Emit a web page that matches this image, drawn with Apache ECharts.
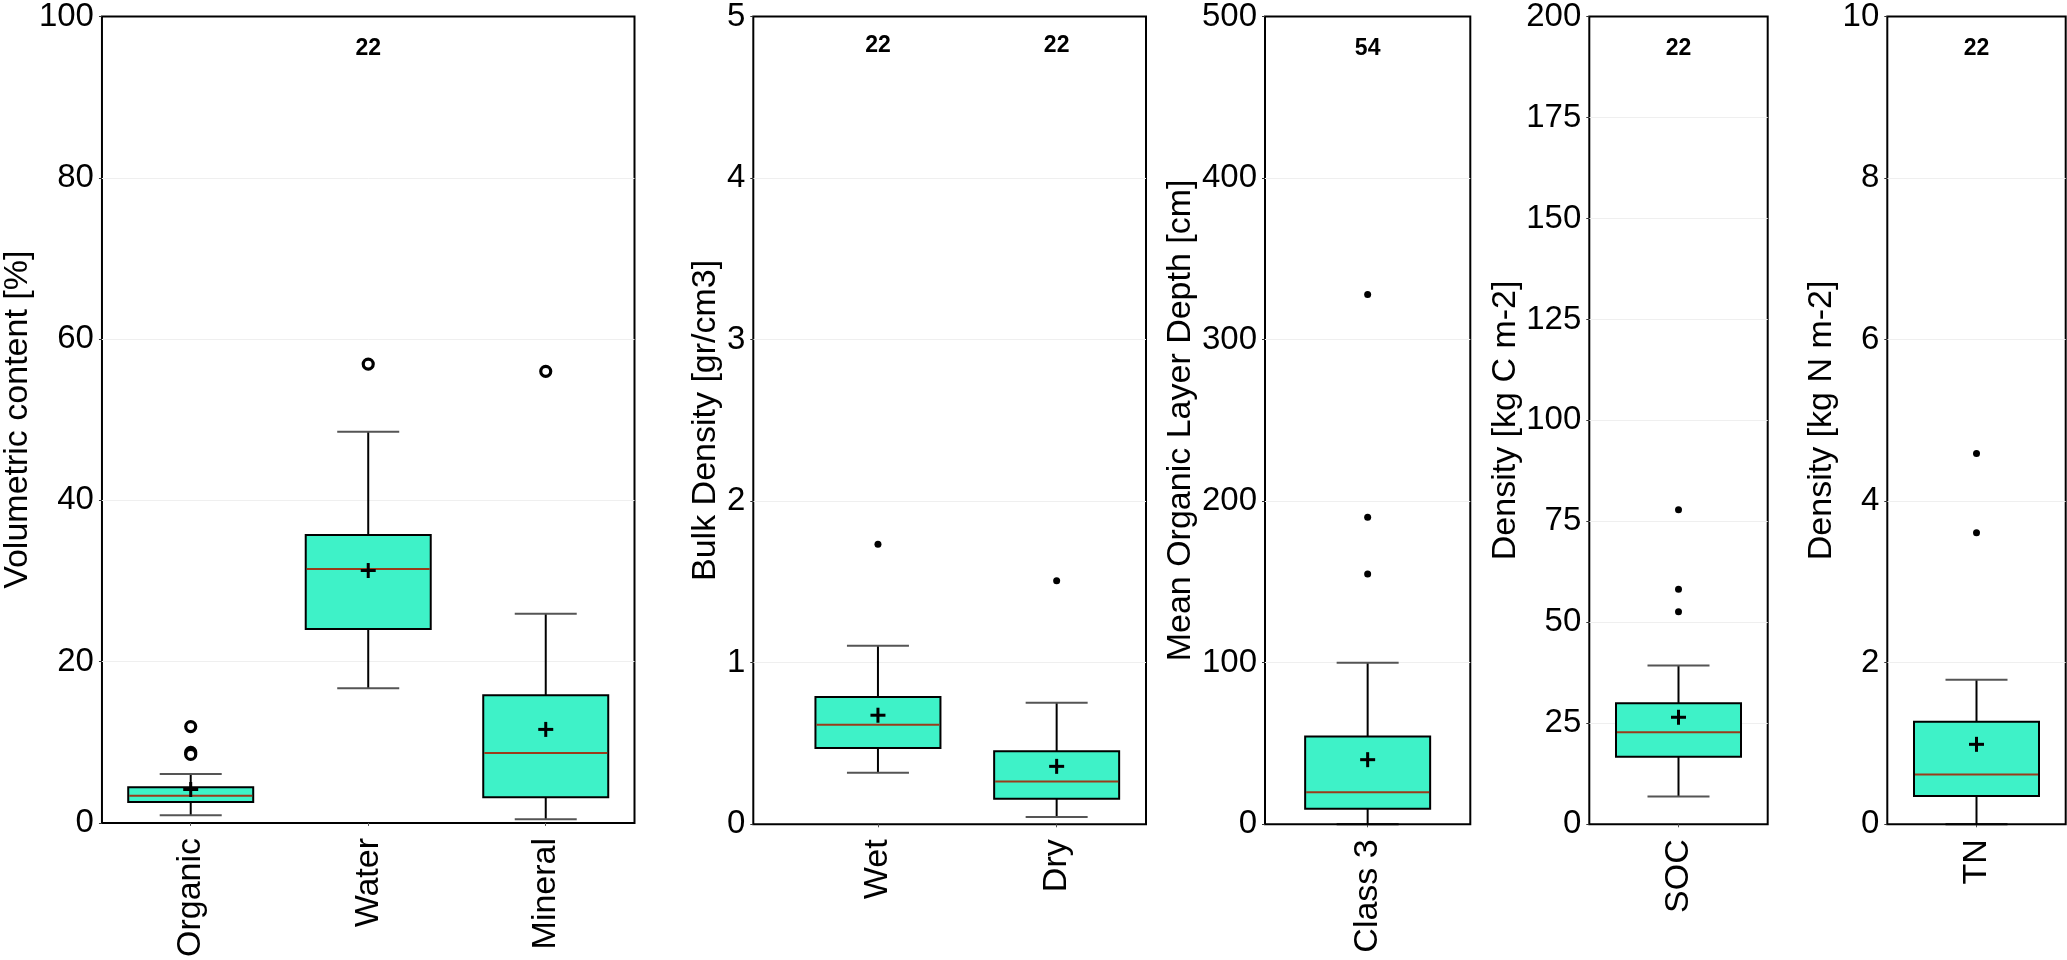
<!DOCTYPE html>
<html><head><meta charset="utf-8">
<script src="https://cdn.jsdelivr.net/npm/echarts@6/dist/echarts.min.js"></script>
<style>html,body{margin:0;padding:0;background:#fff}#c{width:2067px;height:960px}</style>
</head><body><div id="c"></div>
<script>
// ---------- DATA ----------
// stats rows: [lower whisker, Q1, median, Q3, upper whisker]
const volCats = ['Organic', 'Water', 'Mineral'];
const volStats = [[0.94, 2.59, 3.36, 4.43, 6.07], [16.7, 24.06, 31.5, 35.7, 48.5], [0.45, 3.2, 8.66, 15.85, 25.95]];
const volMeans = [4.15, 31.3, 11.6];
const volOutliers = [[0, 11.95], [0, 8.75], [0, 8.5], [1, 56.9], [2, 56.0]];
const volCounts = [null, '22', null];

const bdCats = ['Wet', 'Dry'];
const bdStats = [[0.318, 0.470, 0.614, 0.784, 1.10], [0.045, 0.158, 0.263, 0.450, 0.749]];
const bdMeans = [0.672, 0.357];
const bdOutliers = [[0, 1.725], [1, 1.50]];
const bdCounts = ['22', '22'];

const depthCats = ['Class 3'];
const depthStats = [[0, 9.6, 19.8, 54.3, 100]];
const depthMeans = [40];
const depthOutliers = [[0, 155], [0, 190], [0, 328]];
const depthCounts = ['54'];

const socCats = ['SOC'];
const socStats = [[6.9, 16.7, 22.8, 30.0, 39.3]];
const socMeans = [26.5];
const socOutliers = [[0, 52.6], [0, 58.2], [0, 77.9]];
const socCounts = ['22'];

const tnCats = ['TN'];
const tnStats = [[0, 0.35, 0.616, 1.27, 1.79]];
const tnMeans = [0.99];
const tnOutliers = [[0, 3.61], [0, 4.59]];
const tnCounts = ['22'];

// ---------- STYLE / LAYOUT ----------
const FONT = "'Liberation Sans', Arial, Helvetica, sans-serif";
const BOX_FILL = '#3ef2c8';
const MEDIAN_COLOR = '#9a3b1b';
const BOX_W = 125, CAP_W = 62, PLUS = 7.5;
const TOP = 12.7, HEIGHT = 811.6;
const COUNT_FRAC = 0.96;

const panels = [
  {frame: {left: 98.7, width: 535.8}, data: null, cats: volCats, stats: volStats, means: volMeans, outliers: volOutliers, counts: volCounts, max: 100, interval: 20, name: 'Volumetric content [%]', nameGap: 66, ring: true},
  {frame: {left: 753.3, width: 392.7}, data: {left: 788.6, width: 357.4}, cats: bdCats, stats: bdStats, means: bdMeans, outliers: bdOutliers, counts: bdCounts, max: 5, interval: 1, name: 'Bulk Density [gr/cm3]', nameGap: 30},
  {frame: {left: 1265, width: 205.3}, data: null, cats: depthCats, stats: depthStats, means: depthMeans, outliers: depthOutliers, counts: depthCounts, max: 500, interval: 100, name: 'Mean Organic Layer Depth [cm]', nameGap: 66},
  {frame: {left: 1589.3, width: 178.4}, data: null, cats: socCats, stats: socStats, means: socMeans, outliers: socOutliers, counts: socCounts, max: 200, interval: 25, name: 'Density [kg C m-2]', nameGap: 66},
  {frame: {left: 1887.3, width: 178.4}, data: null, cats: tnCats, stats: tnStats, means: tnMeans, outliers: tnOutliers, counts: tnCounts, max: 10, interval: 2, name: 'Density [kg N m-2]', nameGap: 46}
];

function renderBox(params, api) {
  const c = api.value(0);
  const lo = api.coord([c, api.value(1)]);
  const q1 = api.coord([c, api.value(2)]);
  const md = api.coord([c, api.value(3)]);
  const q3 = api.coord([c, api.value(4)]);
  const hi = api.coord([c, api.value(5)]);
  const mn = api.coord([c, api.value(6)]);
  const cs = params.coordSys;
  const bottom = cs.y + cs.height;
  const x = lo[0], hw = BOX_W / 2, cw = CAP_W / 2;
  const loCapColor = Math.abs(lo[1] - bottom) < 2 ? '#000' : '#555';
  return {
    type: 'group',
    children: [
      {type: 'line', shape: {x1: x, y1: q3[1], x2: x, y2: hi[1]}, style: {stroke: '#000', lineWidth: 2}},
      {type: 'line', shape: {x1: x, y1: q1[1], x2: x, y2: lo[1]}, style: {stroke: '#000', lineWidth: 2}},
      {type: 'line', shape: {x1: x - cw, y1: hi[1], x2: x + cw, y2: hi[1]}, style: {stroke: '#555', lineWidth: 2}},
      {type: 'line', shape: {x1: x - cw, y1: lo[1], x2: x + cw, y2: lo[1]}, style: {stroke: loCapColor, lineWidth: 2}},
      {type: 'rect', shape: {x: x - hw, y: q3[1], width: BOX_W, height: q1[1] - q3[1]}, style: {fill: BOX_FILL, stroke: '#000', lineWidth: 2}},
      {type: 'line', shape: {x1: x - hw + 1, y1: md[1], x2: x + hw - 1, y2: md[1]}, style: {stroke: MEDIAN_COLOR, lineWidth: 2}},
      {type: 'line', shape: {x1: x - PLUS, y1: mn[1], x2: x + PLUS, y2: mn[1]}, style: {stroke: '#000', lineWidth: 3}},
      {type: 'line', shape: {x1: x, y1: mn[1] - PLUS, x2: x, y2: mn[1] + PLUS}, style: {stroke: '#000', lineWidth: 3}}
    ]
  };
}

const grid = [], xAxis = [], yAxis = [], series = [];
panels.forEach(p => {
  const fi = grid.length;
  grid.push({left: p.frame.left, top: TOP, width: p.frame.width, height: HEIGHT, show: true, borderColor: '#000', borderWidth: 2, backgroundColor: 'transparent'});
  yAxis.push({
    type: 'value', gridIndex: fi, min: 0, max: p.max, interval: p.interval,
    axisLine: {show: false},
    axisTick: {show: true, length: 3, lineStyle: {color: '#333'}},
    axisLabel: {fontFamily: FONT, fontSize: 33, color: '#000', margin: 8},
    splitLine: {show: true, showMinLine: false, showMaxLine: false, lineStyle: {color: '#efefef', width: 1}},
    name: p.name, nameLocation: 'middle', nameRotate: 90, nameGap: p.nameGap,
    nameTextStyle: {fontFamily: FONT, fontSize: 34, color: '#000'}
  });
  let di = fi;
  if (p.data) {
    xAxis.push({type: 'category', gridIndex: fi, data: [''], show: false});
    di = grid.length;
    grid.push({left: p.data.left, top: TOP, width: p.data.width, height: HEIGHT, show: false});
    yAxis.push({type: 'value', gridIndex: di, min: 0, max: p.max, interval: p.interval, show: false, splitLine: {show: false}});
  }
  xAxis.push({
    type: 'category', gridIndex: di, data: p.cats,
    axisLine: {show: false},
    axisTick: {show: true, alignWithLabel: true, length: 3, lineStyle: {color: '#555'}},
    axisLabel: {rotate: 90, fontFamily: FONT, fontSize: 34, color: '#000', margin: 15},
    splitLine: {show: false}
  });
  const axIdx = xAxis.length - 1, ayIdx = yAxis.length - 1;
  series.push({
    type: 'custom', xAxisIndex: axIdx, yAxisIndex: ayIdx, renderItem: renderBox, clip: false,
    encode: {x: 0, y: [1, 2, 3, 4, 5, 6]},
    data: p.stats.map((s, i) => [i].concat(s, [p.means[i]])),
    z: 3
  });
  series.push({
    type: 'scatter', xAxisIndex: axIdx, yAxisIndex: ayIdx,
    data: p.outliers,
    symbol: 'circle',
    symbolSize: p.ring ? 10 : 7,
    itemStyle: p.ring ? {color: '#fff', borderColor: '#000', borderWidth: 3.2, opacity: 1} : {color: '#000', opacity: 1},
    z: 4
  });
  series.push({
    type: 'scatter', xAxisIndex: axIdx, yAxisIndex: ayIdx,
    data: p.counts.map((t, i) => t === null ? null : [i, COUNT_FRAC * p.max, t]).filter(d => d),
    symbolSize: 1,
    itemStyle: {color: 'rgba(0,0,0,0)', opacity: 1},
    label: {show: true, position: 'inside', formatter: q => q.data[2], fontFamily: FONT, fontSize: 23, fontWeight: 'bold', color: '#000', opacity: 1},
    z: 5
  });
});

const chart = echarts.init(document.getElementById('c'), null, {renderer: 'canvas'});
chart.setOption({
  backgroundColor: '#fff',
  animation: false,
  grid, xAxis, yAxis, series
});
</script>
</body></html>
